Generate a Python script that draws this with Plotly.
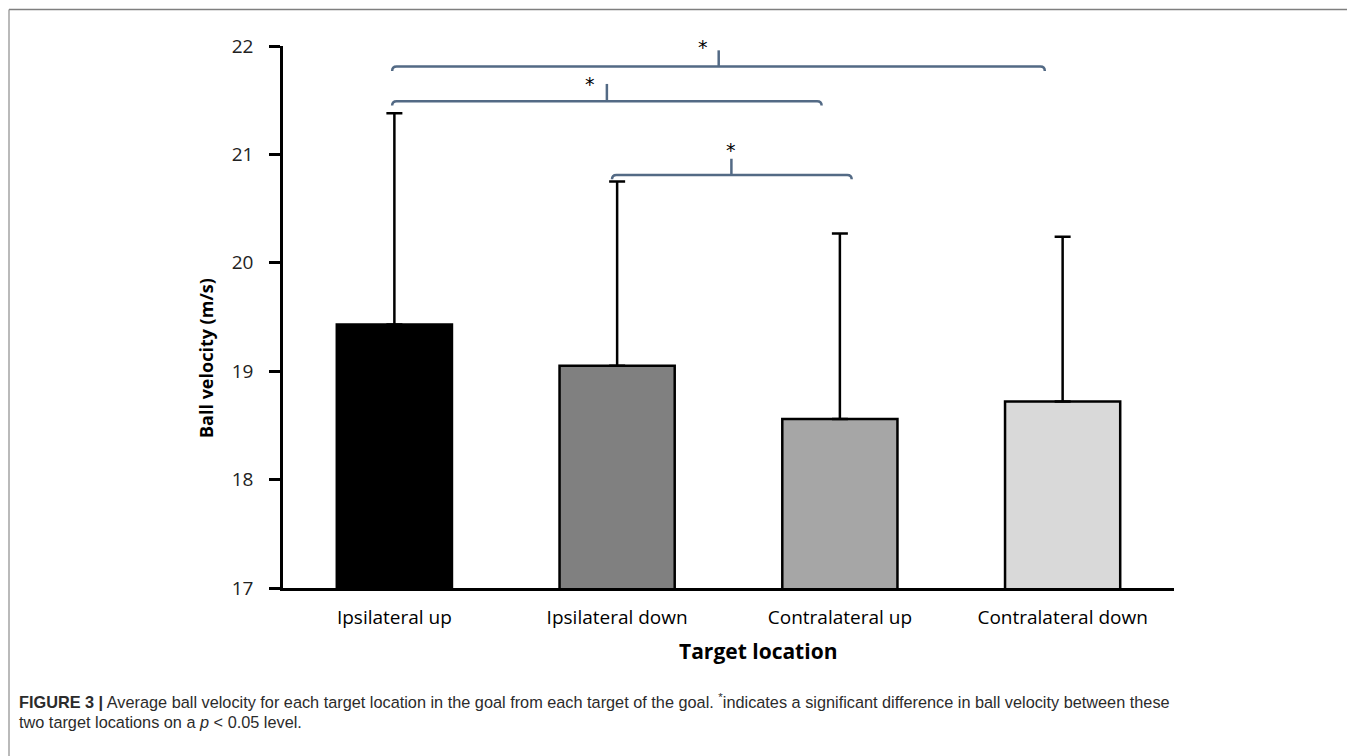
import plotly.graph_objects as go

# ---- data ----
categories = ["Ipsilateral up", "Ipsilateral down", "Contralateral up", "Contralateral down"]
mean_velocity = [19.43, 19.05, 18.56, 18.72]
sd_velocity = [1.95, 1.70, 1.71, 1.52]
bar_colors = ["#000000", "#808080", "#a6a6a6", "#d9d9d9"]
y_ticks = [17, 18, 19, 20, 21, 22]
y_range = [17, 22]

# significance brackets (category-position units / m/s)
bracket_left = [-0.01, -0.01, 0.977]
bracket_right = [2.92, 1.918, 2.053]
bracket_y = [21.81, 21.49, 20.81]
bracket_tick_x = [1.456, 0.954, 1.513]
bracket_tick_top = [21.96, 21.65, 20.96]
star_x = [1.384, 0.88, 1.51]
star_y = [22.04, 21.69, 21.09]

OFF = 8  # page body margin
SW, SH = 1355, 756
L, R, T, B = 283, 1174, 46, 588  # plot area in screen pixels

def px_x(sx):
    return (sx - L) / (R - L)

def px_y(sy):
    return (B - sy) / (B - T)

def val_to_paper(v):
    return (v - y_range[0]) / (y_range[1] - y_range[0])

fig = go.Figure()
fig.add_trace(go.Bar(
    x=list(range(len(categories))),
    y=mean_velocity,
    width=0.517,
    marker=dict(color=bar_colors, line=dict(color="black", width=2.5)),
    error_y=dict(type="data", array=sd_velocity, arrayminus=[0] * len(sd_velocity),
                 symmetric=False, color="black", thickness=2.5, width=8),
    showlegend=False,
))

shapes = []
bc = "#536a85"
hook = 0.04
for l, r, y, tx, tt in zip(bracket_left, bracket_right, bracket_y, bracket_tick_x, bracket_tick_top):
    path = (f"M {l},{y - hook} Q {l},{y} {l + 0.02},{y} "
            f"L {r - 0.02},{y} Q {r},{y} {r},{y - hook}")
    shapes.append(dict(type="path", xref="x", yref="y", path=path,
                       line=dict(color=bc, width=2.5)))
    shapes.append(dict(type="line", xref="x", yref="y", x0=tx, x1=tx, y0=y, y1=tt,
                       line=dict(color=bc, width=2.5)))

# figure frame
shapes.append(dict(type="line", xref="paper", yref="paper", x0=px_x(9), x1=px_x(1354),
                   y0=px_y(9.5), y1=px_y(9.5), line=dict(color="#7f7f7f", width=1.5)))
shapes.append(dict(type="line", xref="paper", yref="paper", x0=px_x(9), x1=px_x(9),
                   y0=px_y(9.5), y1=px_y(770), line=dict(color="#8c8c8c", width=1.2)))
shapes.append(dict(type="line", xref="paper", yref="paper", x0=px_x(1354), x1=px_x(1354),
                   y0=px_y(9.5), y1=px_y(770), line=dict(color="#d9d9d9", width=1.2)))

annotations = []
for sx, sy in zip(star_x, star_y):
    annotations.append(dict(x=sx, y=val_to_paper(sy - 0.045), xref="x", yref="paper", text="*",
                            showarrow=False,
                            font=dict(family="DejaVu Sans, sans-serif", size=19, color="black"),
                            xanchor="center", yanchor="middle"))

tf = "Open Sans, Lato, sans-serif"
annotations.append(dict(x=px_x(206), y=px_y(358), xref="paper", yref="paper",
                        text="<b>Ball velocity (m/s)</b>", textangle=-90, showarrow=False,
                        font=dict(family=tf, size=18, color="black"),
                        xanchor="center", yanchor="middle"))
annotations.append(dict(x=px_x(758), y=px_y(651), xref="paper", yref="paper",
                        text="<b>Target location</b>", showarrow=False,
                        font=dict(family=tf, size=21, color="black"),
                        xanchor="center", yanchor="middle"))

cap_font = "Liberation Sans, Arial, sans-serif"
annotations.append(dict(x=px_x(17), y=px_y(701), xref="paper", yref="paper",
                        text="<b>FIGURE 3 |</b> Average ball velocity for each target location in the goal from each target of the goal. "
                             "<sup>*</sup>indicates a significant difference in ball velocity between these",
                        showarrow=False, align="left",
                        font=dict(family=cap_font, size=16.3, color="#2b2b2b"),
                        xanchor="left", yanchor="middle"))
annotations.append(dict(x=px_x(17), y=px_y(722), xref="paper", yref="paper",
                        text="two target locations on a <i>p</i> &lt; 0.05 level.",
                        showarrow=False, align="left",
                        font=dict(family=cap_font, size=16.3, color="#2b2b2b"),
                        xanchor="left", yanchor="middle"))

fig.update_layout(
    width=SW - OFF, height=SH - OFF,
    margin=dict(l=L - OFF, r=SW - R, t=T - OFF, b=SH - B),
    plot_bgcolor="white", paper_bgcolor="white",
    shapes=shapes, annotations=annotations,
    font=dict(family=tf, color="black"),
)
fig.update_xaxes(
    range=[-0.5, 3.5], tickmode="array", tickvals=list(range(len(categories))), ticktext=categories,
    showline=True, linecolor="black", linewidth=2.5, ticks="", showgrid=False, zeroline=False,
    tickfont=dict(family=tf, size=19, color="black"),
    ticklabelstandoff=10,
)
fig.update_yaxes(
    range=y_range, tickmode="array", tickvals=y_ticks,
    showline=True, linecolor="black", linewidth=2.5, ticks="outside", ticklen=11,
    tickwidth=2.5, tickcolor="black", showgrid=False, zeroline=False,
    tickfont=dict(family=tf, size=19, color="#222222"),
    ticklabelstandoff=12,
)

fig.write_html("out.html")
